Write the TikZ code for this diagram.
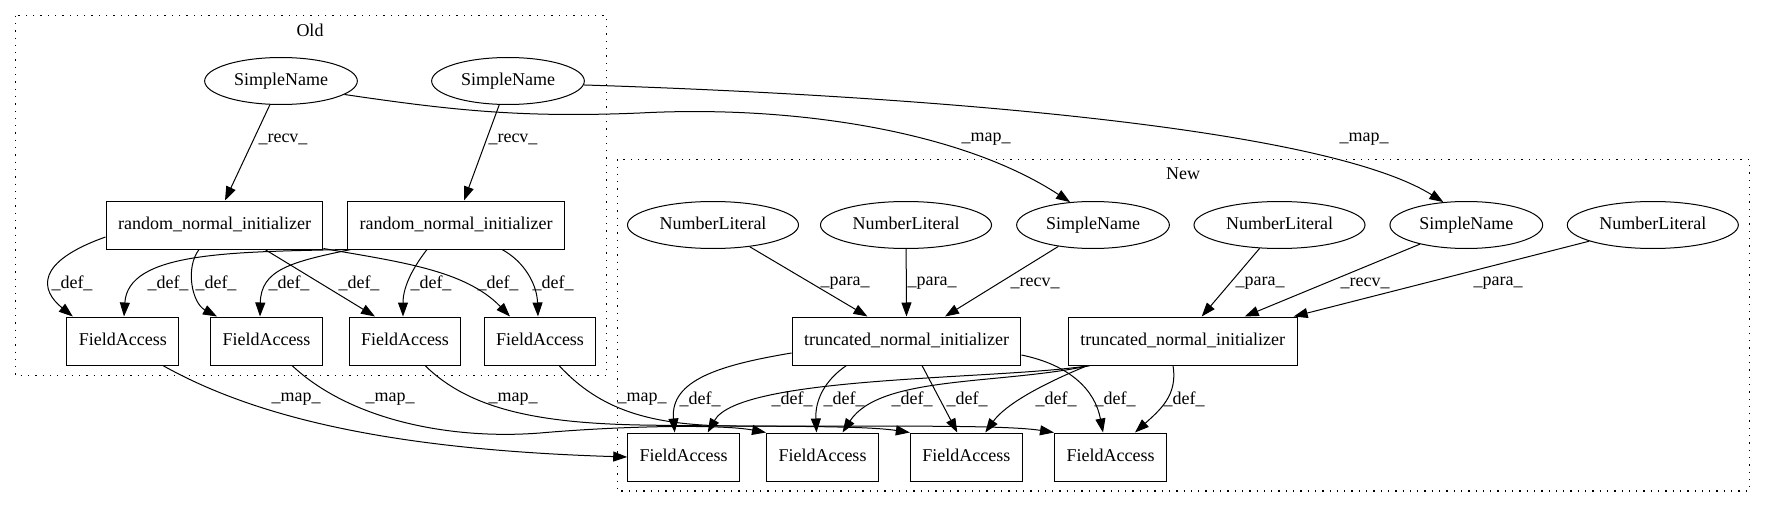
\documentclass[tikz,border=0pt]{standalone}
\usepackage{fontspec}
\setmainfont{Liberation Serif}
\usetikzlibrary{
  arrows.meta,
  shapes.geometric,
}
\newcommand\gvfont{\fontsize{18}{21}\selectfont}
\tikzset{
  x=1pt,
  y=-1pt,
  >={Triangle[length=14pt,width=10pt]},
  n/.style={
    draw, line width=1pt, rectangle, minimum height=48pt,
    inner xsep=12pt, inner ysep=0pt, text height=12.5pt, text depth=4pt,
    font=\gvfont,
  },
  lit/.style={
    draw, line width=1pt, ellipse, minimum height=47pt,
    inner xsep=7pt, inner ysep=0pt, text height=12.5pt, text depth=4pt,
    font=\gvfont,
  },
  lbl/.style={font=\gvfont, inner sep=0pt},
  dep/.style={->, line width=1pt},
  cluster/.style={line width=1.1pt, dash pattern=on 1.3pt off 6pt},
}

\begin{document}
\begin{tikzpicture}
  \useasboundingbox (0,0) rectangle (1765,508);
  % clusters
  \draw[cluster] (15.7,15.7) rectangle (606.7,375.7);
  \node[lbl](Old) at (310,30){Old};
  \draw[cluster] (617.3,159.3) rectangle (1749.3,491);
  \node[lbl](New) at (1183,174){New};
  %% Old
  \node[lit](SNo1) at (281,81){SimpleName};
  \node[lit](SNo2) at (508,81){SimpleName};
  \node[n](rnio1) at (214.5,225){random\_normal\_initializer};
  \node[n](rnio2) at (456,225){random\_normal\_initializer};
  \node[n](FAo1) at (122.8,341){FieldAccess};
  \node[n](FAo2) at (266.5,341){FieldAccess};
  \node[n](FAo3) at (405,341){FieldAccess};
  \node[n](FAo4) at (540,341){FieldAccess};
  %% New
  \node[lit](NL1) at (713,225){NumberLiteral};
  \node[lit](NL2) at (906,225){NumberLiteral};
  \node[lit](SNn1) at (1093,225){SimpleName};
  \node[lit](NL3) at (1279.5,225){NumberLiteral};
  \node[lit](SNn2) at (1466.3,225){SimpleName};
  \node[lit](NL4) at (1652.8,225){NumberLiteral};
  \node[n](trunc1) at (906.5,341){truncated\_normal\_initializer};
  \node[n](trunc2) at (1182.7,341){truncated\_normal\_initializer};
  \node[n](FAn1) at (683.7,457){FieldAccess};
  \node[n](FAn2) at (822.5,457){FieldAccess};
  \node[n](FAn3) at (966.3,457){FieldAccess};
  \node[n](FAn4) at (1110.5,457){FieldAccess};
  %% Old edges
  \draw[dep](SNo1) -- ([xshift=10.5pt]rnio1.north) node[lbl] at (283,139){\_recv\_};
  \draw[dep](SNo2) -- ([xshift=8pt]rnio2.north) node[lbl] at (513,139){\_recv\_};
  \draw[dep]([yshift=-12pt]rnio1.west) .. controls (35,262) and (40,290) .. ([xshift=-50pt]FAo1.north) node[lbl] at (72,283){\_def\_};
  \draw[dep]([xshift=-15.5pt]rnio1.south) .. controls (185,268) and (192,303) .. ([xshift=-49.5pt]FAo2.north) node[lbl] at (216,283){\_def\_};
  \draw[dep]([xshift=50.5pt]rnio1.south) -- ([xshift=-30pt]FAo3.north) node[lbl] at (359,283){\_def\_};
  \draw[dep]([yshift=1pt]rnio1.south east) .. controls (400,262) and (465,270) .. ([xshift=-30pt]FAo4.north) node[lbl] at (498,283){\_def\_};
  \draw[dep](rnio2.south west) .. controls (230,252) and (128,252) .. ([xshift=1.2pt]FAo1.north) node[lbl] at (168,283){\_def\_};
  \draw[dep]([xshift=4pt]rnio2.south west) .. controls (290,262) and (261,270) .. ([xshift=-6.5pt]FAo2.north) node[lbl] at (289,283){\_def\_};
  \draw[dep]([xshift=-29pt]rnio2.south) .. controls (415,265) and (403,285) .. ([xshift=-2pt]FAo3.north) node[lbl] at (431,283){\_def\_};
  \draw[dep]([xshift=46pt]rnio2.south) .. controls (525,262) and (537,285) .. ([xshift=-2pt]FAo4.north) node[lbl] at (553,283){\_def\_};
  %% maps
  \draw[dep](SNo1.-12) .. controls (450,110) and (520,118) .. (640,113) .. controls (790,105) and (960,130) .. (SNn1.135) node[lbl] at (986,139){\_map\_};
  \draw[dep](SNo2.-3) .. controls (900,95) and (1320,125) .. (SNn2.135) node[lbl] at (1364,139){\_map\_};
  \draw[dep]([xshift=40pt]FAo1.south) .. controls (260,420) and (400,450) .. (FAn1.west) node[lbl] at (296,399){\_map\_};
  \draw[dep]([xshift=25.5pt]FAo2.south) .. controls (350,420) and (450,440) .. (540,433) .. controls (620,426) and (720,424) .. (FAn2.north west) node[lbl] at (390,399){\_map\_};
  \draw[dep]([xshift=20pt]FAo3.south) .. controls (470,410) and (540,423) .. (640,425) .. controls (760,427) and (860,425) .. (FAn3.north west) node[lbl] at (513,399){\_map\_};
  \draw[dep]([xshift=19pt]FAo4.south) .. controls (600,410) and (650,425) .. (730,426) .. controls (850,427) and (1000,424) .. (FAn4.north west) node[lbl] at (642,399){\_map\_};
  %% New edges
  \draw[dep](NL1) -- ([xshift=-39pt]trunc1.north) node[lbl] at (845,283){\_para\_};
  \draw[dep](NL2) -- (trunc1.north) node[lbl] at (932,283){\_para\_};
  \draw[dep](SNn1) -- ([xshift=38.5pt]trunc1.north) node[lbl] at (1035,283){\_recv\_};
  \draw[dep](NL3) -- ([xshift=19pt]trunc2.north) node[lbl] at (1260,283){\_para\_};
  \draw[dep](SNn2) -- ([xshift=62pt]trunc2.north) node[lbl] at (1365,283){\_recv\_};
  \draw[dep](NL4) -- ([xshift=-4pt]trunc2.north east) node[lbl] at (1498,283){\_para\_};
  \draw[dep]([yshift=-12pt]trunc1.west) .. controls (720,365) and (670,380) .. ([xshift=-9pt]FAn1.north) node[lbl] at (700,399){\_def\_};
  \draw[dep]([xshift=-92.7pt]trunc2.south) .. controls (1000,380) and (740,375) .. ([xshift=24pt]FAn1.north) node[lbl] at (792,399){\_def\_};
  \draw[dep]([xshift=-60pt]trunc1.south) .. controls (825,380) and (815,400) .. ([xshift=-6pt]FAn2.north) node[lbl] at (844,399){\_def\_};
  \draw[dep]([xshift=-92.7pt]trunc2.south) .. controls (1000,385) and (880,375) .. ([xshift=20pt]FAn2.north) node[lbl] at (912,399){\_def\_};
  \draw[dep]([xshift=15.5pt]trunc1.south) -- ([xshift=-9pt]FAn3.north) node[lbl] at (967,399){\_def\_};
  \draw[dep]([xshift=-95pt]trunc2.south) .. controls (1040,385) and (1005,405) .. ([xshift=19pt]FAn3.north) node[lbl] at (1056,399){\_def\_};
  \draw[dep]([yshift=-14pt]trunc1.east) .. controls (1070,365) and (1095,390) .. ([xshift=-7.5pt]FAn4.north) node[lbl] at (1115,399){\_def\_};
  \draw[dep]([xshift=-9.7pt]trunc2.south) .. controls (1178,395) and (1160,410) .. ([xshift=24.5pt]FAn4.north) node[lbl] at (1184,399){\_def\_};
\end{tikzpicture}
\end{document}
